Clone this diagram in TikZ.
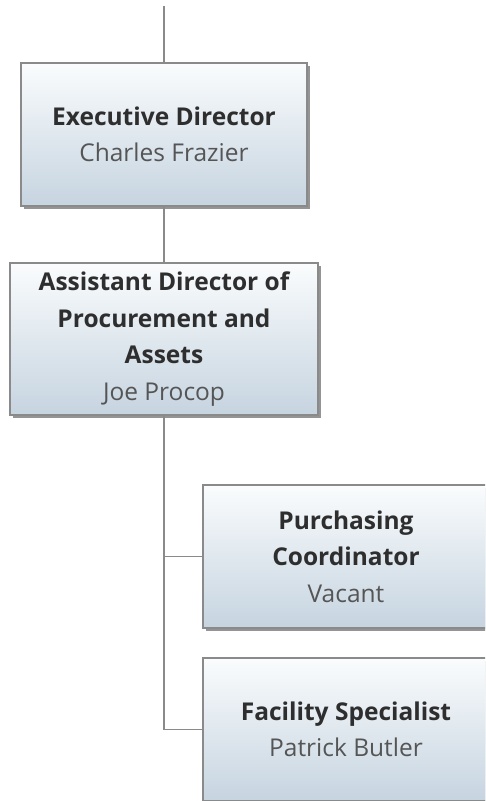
\documentclass[tikz,border=0pt]{standalone}
\usepackage{fontspec}
\setmainfont{Open Sans}
\usetikzlibrary{positioning,shadows,calc}
\definecolor{linegray}{HTML}{8A8A8A}
\definecolor{boxtop}{HTML}{FAFCFD}
\definecolor{boxbottom}{HTML}{C6D4E0}
\definecolor{titlegray}{HTML}{2E2E2E}
\definecolor{namegray}{HTML}{555555}

\begin{document}
\begin{tikzpicture}[x=1pt, y=1pt, line width=1.6pt,
  post/.style={rectangle, draw=linegray, line width=1.8pt, top color=boxtop, bottom color=boxbottom,
    drop shadow={shadow xshift=3pt, shadow yshift=-3pt, fill=black!60, opacity=.7},
    align=center, text=titlegray, inner sep=0pt, minimum width=286pt, minimum height=143pt,
    font=\fontsize{24.5}{36.5}\selectfont},
  link/.style={draw=linegray, line width=1.6pt}]%
\clip (0,0) rectangle (485,801);
\coordinate (top) at (164,795);
\begin{scope}
\node[post] (exec) at (164,666.5) {\bfseries Executive Director\\ \color{namegray}Charles Frazier};
\node[post, minimum width=308pt, minimum height=152pt] (asst) at (164,462) {\bfseries Assistant Director of\\ \bfseries Procurement and\\ \bfseries Assets\\ \color{namegray}Joe Procop};
\node[post] (purch) at (346,244.5) {\bfseries Purchasing\\ \bfseries Coordinator\\ \color{namegray}Vacant};
\node[post] (facil) at (346,71.5) {\bfseries Facility Specialist\\ \color{namegray}Patrick Butler};
\end{scope}
\begin{scope}
\draw[link] (top) -- (exec);
\draw[link] (exec) -- (asst);
\draw[link] (asst.south) |- (purch.west);
\draw[link] (asst.south) |- (facil.west);
\end{scope}
\end{tikzpicture}
\end{document}
